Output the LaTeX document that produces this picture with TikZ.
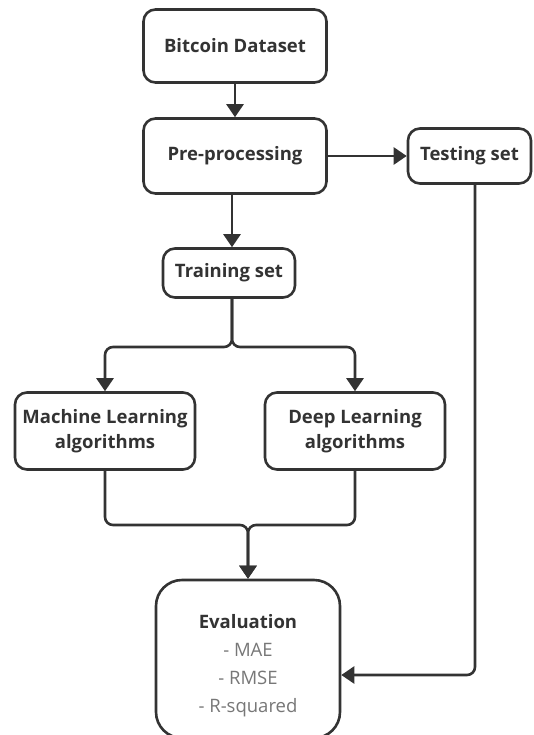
\documentclass[tikz,border=0pt]{standalone}
\usepackage{fontspec}
\setmainfont{Open Sans}
\usetikzlibrary{arrows.meta}
\definecolor{ink}{HTML}{333333}
\definecolor{soft}{HTML}{777777}
\newcommand{\lite}[1]{\textmd{\textcolor{soft}{#1}}}
\begin{document}
\begin{tikzpicture}[x=1pt,y=-1pt,
  box/.style={draw=ink,line width=2.6pt,rounded corners=12pt,fill=white,align=center,
    font=\fontsize{18.5}{25}\selectfont\bfseries,text=ink,inner sep=0pt},
  conn/.style={draw=ink,line width=2.6pt,rounded corners=8pt,-{Triangle[length=13pt,width=17pt]}},
  plain/.style={draw=ink,line width=2.6pt,rounded corners=8pt}]
\useasboundingbox (0,0) rectangle (533,735);
\node[box,minimum width=183pt,minimum height=73pt] (bd) at (235,46) {Bitcoin Dataset};
\node[box,minimum width=183pt,minimum height=75pt] (pp) at (235,156) {Pre-processing};
\node[box,minimum width=123pt,minimum height=55pt] (tst) at (469.5,156) {Testing set};
\node[box,minimum width=132pt,minimum height=49pt] (tr) at (229,273) {Training set};
\node[box,minimum width=180pt,minimum height=77pt] (ml) at (105,431) {Machine Learning\\algorithms};
\node[box,minimum width=180pt,minimum height=77pt] (dl) at (355,431) {Deep Learning\\algorithms};
\node[box,rounded corners=26pt,minimum width=184pt,minimum height=158pt] (ev) at (248,659)
  {\rule{0pt}{27pt}Evaluation\\[3pt]\lite{- MAE}\\[3pt]\lite{- RMSE}\\[3pt]\lite{- R-squared}};
\coordinate (split) at (232,347);
\coordinate (join) at (248,525);
\coordinate (tin) at (475,675);
\draw[conn] (bd) -- (pp);
\draw[conn] (pp) -- (tst);
\draw[conn] (split |- pp.south) -- (split |- tr.north);
\draw[conn] (split |- tr.south) -- (split) -| (ml.north);
\draw[conn] (split |- tr.south) -- (split) -| (dl.north);
\draw[conn] (ml.south) |- (join) -- (ev.north);
\draw[conn] (dl.south) |- (join) -- (ev.north);
\draw[conn] (tin |- tst.south) -- (tin) -- (ev.east |- tin);
\end{tikzpicture}
\end{document}
